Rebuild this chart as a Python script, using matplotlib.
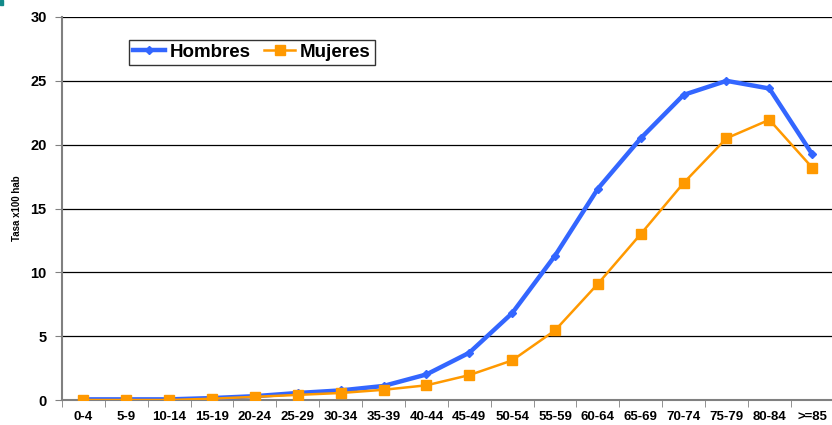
import matplotlib
matplotlib.use("Agg")
import matplotlib.pyplot as plt
import numpy as np
from matplotlib.ticker import FixedLocator

plt.rcParams['font.family'] = ['Liberation Sans', 'DejaVu Sans']

categories = ["0-4", "5-9", "10-14", "15-19", "20-24", "25-29", "30-34", "35-39",
              "40-44", "45-49", "50-54", "55-59", "60-64", "65-69", "70-74",
              "75-79", "80-84", ">=85"]
hombres = [0.05, 0.05, 0.05, 0.15, 0.3, 0.55, 0.75, 1.1, 2.0, 3.7, 6.8, 11.3,
           16.55, 20.5, 23.9, 25.0, 24.4, 19.25]
mujeres = [0.0, 0.0, 0.0, 0.1, 0.25, 0.4, 0.55, 0.8, 1.15, 1.95, 3.1, 5.45,
           9.1, 13.0, 17.0, 20.5, 21.95, 18.2]

fig = plt.figure(figsize=(8.32, 4.25), dpi=100)
ax = fig.add_axes([62/832, 1-400/425, 1-62/832 + 0.002, (400-17)/425])

x = np.arange(len(categories))
ax.plot(x, hombres, color='#3366FF', lw=3.2, marker='D', ms=4.5, label='Hombres', zorder=3)
ax.plot(x, mujeres, color='#FF9900', lw=1.8, marker='s', ms=6.5, label='Mujeres', zorder=4)

ax.set_xlim(-0.5, len(categories) - 0.5)
ax.set_ylim(0, 30)
ax.set_yticks([0, 5, 10, 15, 20, 25, 30])
ax.yaxis.grid(True, color='black', lw=0.9)
ax.set_axisbelow(True)

ax.set_xticks(x)
ax.set_xticklabels(categories, fontsize=9.5, fontweight='bold')
ax.xaxis.set_minor_locator(FixedLocator(np.arange(-0.5, len(categories), 1.0)))
ax.tick_params(axis='x', which='major', length=0, pad=8)
ax.tick_params(axis='x', which='minor', length=5, color='#808080', direction='out')
ax.tick_params(axis='y', length=5, color='#808080', labelsize=10.5, pad=6)
for lab in ax.get_yticklabels():
    lab.set_fontweight('bold')

for s in ['top', 'right']:
    ax.spines[s].set_visible(False)
ax.spines['left'].set_color('#808080')
ax.spines['left'].set_linewidth(1.5)
ax.spines['bottom'].set_color('#808080')
ax.spines['bottom'].set_linewidth(1.5)

ax.set_ylabel('Tasa x100 hab', fontsize=7, fontweight='bold', labelpad=6)

leg = ax.legend(loc='upper left', bbox_to_anchor=((129 - 62)/770, 1 - 23/383), ncol=2,
                frameon=True, fancybox=False, edgecolor='black',
                prop={'weight': 'bold', 'size': 13.5}, handlelength=1.7,
                handletextpad=0.25, columnspacing=0.7, borderpad=0.2, borderaxespad=0)
leg.get_frame().set_linewidth(1.0)

fig.patches.append(plt.Rectangle((0, 1 - 5/425), 3/832, 5/425, transform=fig.transFigure,
                                 color='#138a8a', zorder=10))

fig.savefig('out.png', dpi=100)
